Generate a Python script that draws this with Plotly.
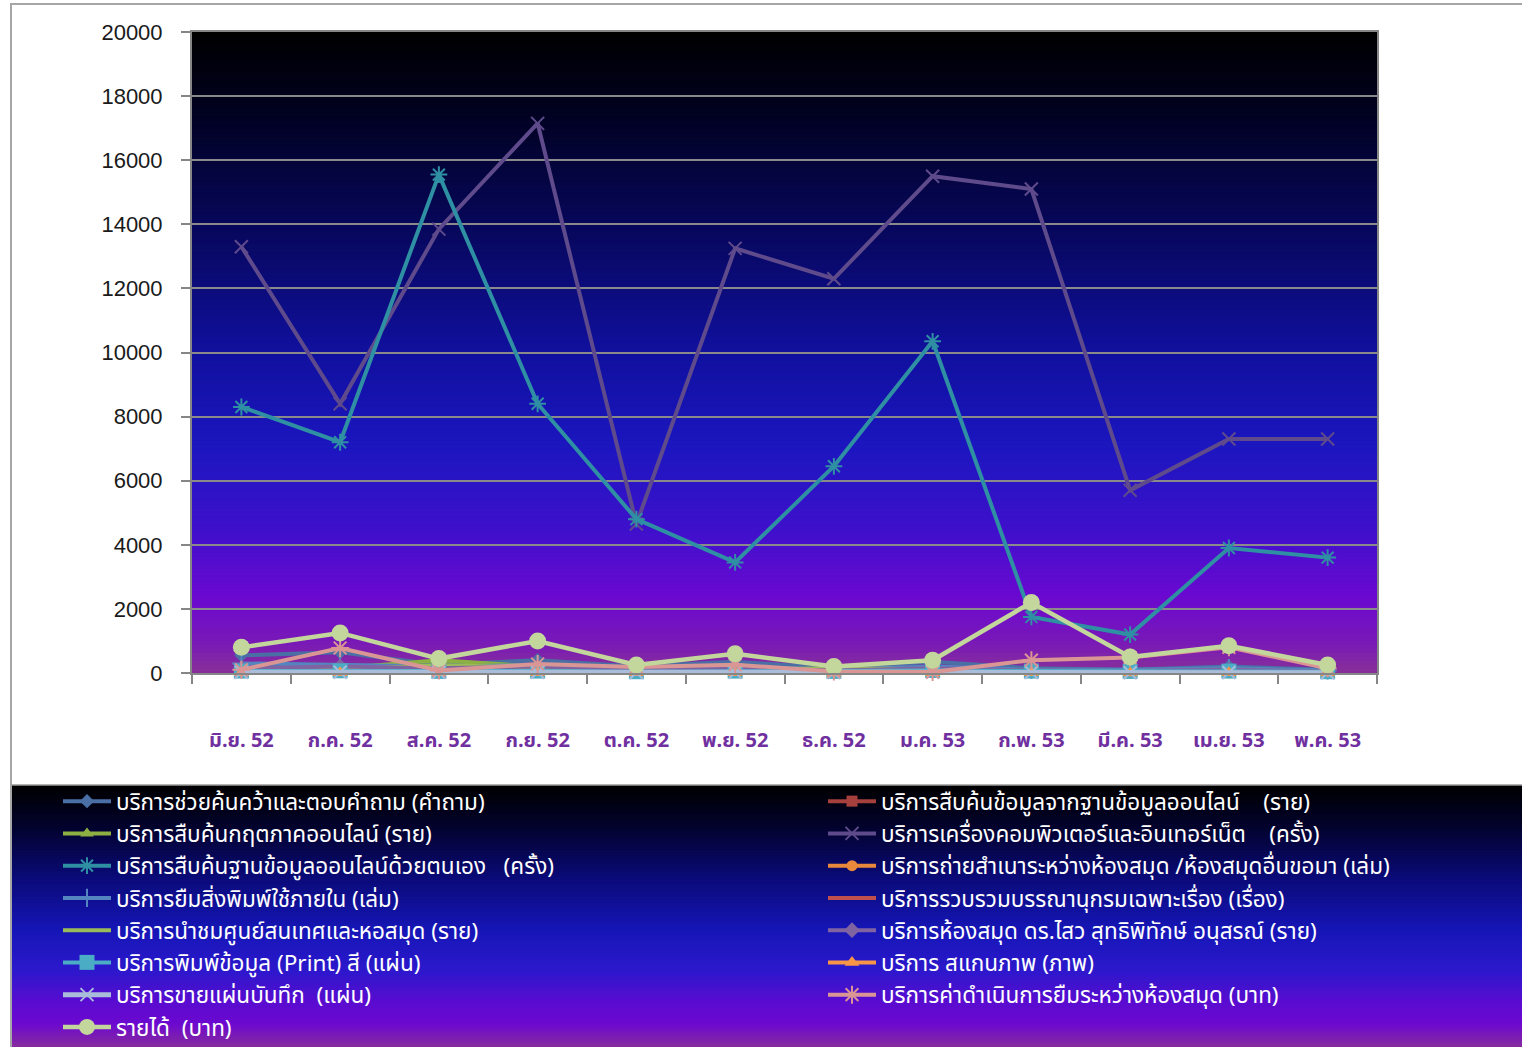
import plotly.graph_objects as go

# ---------------- data ----------------
months = ["มิ.ย. 52", "ก.ค. 52", "ส.ค. 52", "ก.ย. 52", "ต.ค. 52", "พ.ย. 52",
          "ธ.ค. 52", "ม.ค. 53", "ก.พ. 53", "มี.ค. 53", "เม.ย. 53", "พ.ค. 53"]

reference_qa      = [550, 650, 250, 400, 200, 350, 150, 350, 150, 100, 200, 100]
online_db_search  = [20, 30, 25, 30, 20, 25, 15, 20, 20, 15, 20, 10]
clipping_online   = [100, 150, 400, 200, 100, 150, 100, 150, 80, 80, 100, 60]
computer_internet = [13300, 8400, 13850, 17150, 4650, 13250, 12300, 15500, 15100, 5700, 7300, 7300]
self_db_search    = [8300, 7200, 15550, 8400, 4800, 3450, 6450, 10350, 1750, 1200, 3900, 3600]
ill_copy          = [5, 10, 8, 10, 5, 8, 5, 5, 5, 5, 5, 5]
inhouse_loan      = [300, 250, 200, 250, 150, 200, 100, 200, 100, 100, 150, 80]
bibliography      = [2, 3, 2, 3, 1, 2, 1, 2, 1, 1, 2, 1]
library_tour      = [50, 100, 250, 150, 80, 100, 150, 120, 60, 50, 60, 30]
sawai_library     = [150, 200, 150, 200, 100, 150, 80, 150, 80, 60, 100, 50]
color_print       = [60, 70, 50, 60, 40, 60, 50, 80, 60, 50, 60, 40]
scan_images       = [5, 8, 5, 6, 4, 5, 3, 5, 4, 3, 4, 2]
disk_sales        = [20, 25, 20, 25, 15, 20, 15, 20, 15, 10, 15, 10]
ill_fee           = [100, 780, 80, 280, 190, 260, 50, 30, 400, 480, 800, 150]
income            = [800, 1250, 450, 1000, 250, 600, 200, 400, 2200, 500, 850, 250]

series_names = [
    "บริการช่วยค้นคว้าและตอบคำถาม (คำถาม)",
    "บริการสืบค้นข้อมูลจากฐานข้อมูลออนไลน์\u00a0\u00a0\u00a0\u00a0(ราย)",
    "บริการสืบค้นกฤตภาคออนไลน์ (ราย)",
    "บริการเครื่องคอมพิวเตอร์และอินเทอร์เน็ต\u00a0\u00a0\u00a0\u00a0(ครั้ง)",
    "บริการสืบค้นฐานข้อมูลออนไลน์ด้วยตนเอง\u00a0\u00a0\u00a0(ครั้ง)",
    "บริการถ่ายสำเนาระหว่างห้องสมุด /ห้องสมุดอื่นขอมา (เล่ม)",
    "บริการยืมสิ่งพิมพ์ใช้ภายใน (เล่ม)",
    "บริการรวบรวมบรรณานุกรมเฉพาะเรื่อง (เรื่อง)",
    "บริการนำชมศูนย์สนเทศและหอสมุด (ราย)",
    "บริการห้องสมุด ดร.ไสว สุทธิพิทักษ์ อนุสรณ์ (ราย)",
    "บริการพิมพ์ข้อมูล (Print) สี (แผ่น)",
    "บริการ สแกนภาพ (ภาพ)",
    "บริการขายแผ่นบันทึก\u00a0\u00a0(แผ่น)",
    "บริการค่าดำเนินการยืมระหว่างห้องสมุด (บาท)",
    "รายได้\u00a0\u00a0(บาท)",
]
series_values = [reference_qa, online_db_search, clipping_online, computer_internet,
                 self_db_search, ill_copy, inhouse_loan, bibliography, library_tour,
                 sawai_library, color_print, scan_images, disk_sales, ill_fee, income]

# ---------------- styles ----------------
colors = ["#4A6FA5", "#A5403D", "#8DB043", "#5F4B8B", "#2F8FA3", "#E8883A",
          "#5585C0", "#C0504D", "#9BBB59", "#8064A2", "#4BACC6", "#F79646",
          "#A9BCDA", "#D99694", "#C3D69B"]
symbols = ["diamond", "square", "triangle-up", "x-thin-open", "asterisk-open", "circle",
           "cross-thin-open", None, None, "diamond", "square", "triangle-up",
           "x-thin-open", "asterisk-open", "circle"]
msizes = [11, 11, 12, 13, 14, 11, 13, 0, 0, 12, 15, 13, 13, 15, 17]
lwidths = [4, 4, 4, 4, 4, 4, 4, 4, 4, 4, 4, 4, 5, 4, 4.5]

W, H = 1522, 1047
L, R, T, B = 192, 1377, 32, 673


def fx(px):
    return (px - L) / (R - L)


def fy(py):
    return (B - py) / (B - T)


def hex2rgb(h):
    h = h.lstrip("#")
    return tuple(int(h[i:i + 2], 16) for i in (0, 2, 4))


def interp(stops, t):
    for (t0, c0), (t1, c1) in zip(stops[:-1], stops[1:]):
        if t0 <= t <= t1:
            a = (t - t0) / (t1 - t0) if t1 > t0 else 0
            r0, g0, b0 = hex2rgb(c0)
            r1, g1, b1 = hex2rgb(c1)
            return "rgb(%d,%d,%d)" % (round(r0 + (r1 - r0) * a), round(g0 + (g1 - g0) * a), round(b0 + (b1 - b0) * a))
    return stops[-1][1]


plot_stops = [(0, "#000000"), (0.12, "#01011f"), (0.3, "#07075a"), (0.5, "#10109e"),
              (0.65, "#1c16c0"), (0.78, "#4010cc"), (0.88, "#6a08d0"), (0.95, "#7818b8"),
              (1.0, "#883098")]
leg_stops = [(0, "#000000"), (0.15, "#02022a"), (0.35, "#0a0a78"), (0.55, "#1616b8"),
             (0.7, "#2c18cc"), (0.82, "#5a0cd0"), (0.9, "#6c08d0"), (1.0, "#8a3096")]

shapes = []
N = 160
for i in range(N):
    t = (i + 0.5) / N
    shapes.append(dict(type="rect", xref="x domain", yref="y domain", layer="below",
                       x0=0, x1=1, y0=max(0, 1 - (i + 1) / N - 0.003), y1=1 - i / N,
                       fillcolor=interp(plot_stops, t), line=dict(width=0)))
LY0, LY1 = 785, 1050
M = 90
for i in range(M):
    t = (i + 0.5) / M
    y_top = LY0 + (LY1 - LY0) * i / M
    y_bot = LY0 + (LY1 - LY0) * (i + 1) / M + 1.5
    shapes.append(dict(type="rect", xref="paper", yref="paper", layer="below",
                       x0=fx(11), x1=fx(1530), y0=fy(y_bot), y1=fy(y_top),
                       fillcolor=interp(leg_stops, t), line=dict(width=0)))
# outer frame
shapes.append(dict(type="path", xref="paper", yref="paper", layer="above",
                   path="M %f %f L %f %f L %f %f" % (fx(11), fy(1050), fx(11), fy(4), fx(1530), fy(4)),
                   line=dict(color="#a6a6a6", width=2)))
shapes.append(dict(type="line", xref="paper", yref="paper", layer="above",
                   x0=fx(11), x1=fx(1530), y0=fy(785), y1=fy(785),
                   line=dict(color="#9a9a9a", width=1.5)))

fig = go.Figure()
for k, (name, vals) in enumerate(zip(series_names, series_values)):
    sym = symbols[k]
    open_sym = sym is not None and sym.endswith("open")
    marker = dict(size=msizes[k], color=colors[k], symbol=sym if sym else "circle",
                  line=dict(color=colors[k], width=2 if open_sym else 0))
    fig.add_trace(go.Scatter(
        x=months, y=vals, name=name,
        mode="lines+markers" if sym else "lines",
        line=dict(color=colors[k], width=lwidths[k]),
        marker=marker,
        cliponaxis=False,
        legend="legend" if k % 2 == 0 else "legend2",
        legendgroup="g%d" % k,
    ))

thai_font = "Tahoma, 'Noto Sans Thai', 'Noto Sans', 'DejaVu Sans', sans-serif"
legend_font = dict(family=thai_font, size=22.5, color="#ffffff")

fig.update_layout(
    width=W, height=H,
    margin=dict(l=L, r=W - R, t=T, b=H - B, autoexpand=False),
    paper_bgcolor="#ffffff",
    plot_bgcolor="rgba(0,0,0,0)",
    shapes=shapes,
    showlegend=True,
    legend=dict(x=fx(58), y=fy(780), xanchor="left", yanchor="top",
                orientation="v", bgcolor="rgba(0,0,0,0)", font=legend_font,
                itemwidth=48, tracegroupgap=0.6, traceorder="normal"),
    legend2=dict(x=fx(823), y=fy(780), xanchor="left", yanchor="top",
                 orientation="v", bgcolor="rgba(0,0,0,0)", font=legend_font,
                 itemwidth=48, tracegroupgap=0.6, traceorder="normal"),
    xaxis=dict(
        type="category", range=[-0.5, 11.5],
        tickson="boundaries", ticks="outside", ticklen=9, tickcolor="#868686", tickwidth=2,
        showline=True, linecolor="#868686", linewidth=2, mirror=True,
        showgrid=False,
        tickfont=dict(family=thai_font, size=20, color="#7030A0", weight="bold"),
        ticklabelstandoff=48,
    ),
    yaxis=dict(
        range=[0, 20000], dtick=2000, tick0=0, tickformat="d",
        ticks="outside", ticklen=9, tickcolor="#868686", tickwidth=2,
        showline=True, linecolor="#868686", linewidth=2, mirror=True,
        showgrid=True, gridcolor="#8a8a8a", gridwidth=1.5,
        zeroline=False,
        tickfont=dict(family="'Liberation Sans', Arial, sans-serif", size=22, color="#1a1a1a"),
        ticklabelstandoff=14,
    ),
)

fig.write_html("out.html", include_plotlyjs=True, config={"displayModeBar": False},
               post_script="document.body.style.margin='0';document.body.style.overflow='hidden';")
